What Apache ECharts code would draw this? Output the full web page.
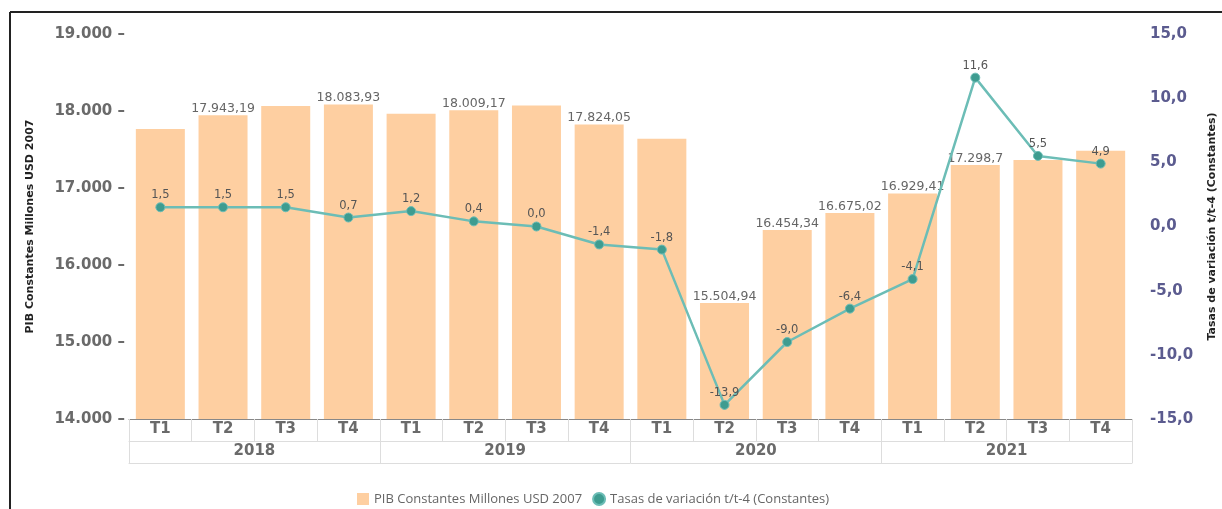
<!DOCTYPE html>
<html>
<head>
<meta charset="utf-8">
<script src="https://cdn.jsdelivr.net/npm/echarts@6/dist/echarts.min.js"></script>
<style>
  html, body { margin: 0; padding: 0; background: #fff; }
  #main { width: 1222px; height: 509px; }
</style>
</head>
<body>
<div id="main"></div>
<script>
// datos
var trimestres = ['T1','T2','T3','T4','T1','T2','T3','T4','T1','T2','T3','T4','T1','T2','T3','T4'];
var anios = ['2018', '2019', '2020', '2021'];
var pib = [17766, 17943.19, 18065, 18083.93, 17965, 18009.17, 18070, 17824.05,
           17640, 15504.94, 16454.34, 16675.02, 16929.41, 17298.7, 17364, 17485];
var tasas = [1.5, 1.5, 1.5, 0.7, 1.2, 0.4, 0.0, -1.4, -1.8, -13.9, -9.0, -6.4, -4.1, 11.6, 5.5, 4.9];
var conEtiqueta = [1, 3, 5, 7, 9, 10, 11, 12, 13];

function fmtMiles(v) {
    var p = String(v).split('.');
    var ent = p[0].replace(/\B(?=(\d{3})+(?!\d))/g, '.');
    return p.length > 1 ? ent + ',' + p[1] : ent;
}

var barData = pib.map(function (v, i) {
    return { value: v, label: { show: conEtiqueta.indexOf(i) >= 0 } };
});

var ejeTexto = { color: '#6a6a6a', fontSize: 15, fontWeight: 'bold', fontFamily: 'DejaVu Sans' };

var myChart = echarts.init(document.getElementById('main'));
var option = {
    animation: false,
    grid: { left: 129, right: 90, top: 34, bottom: 90, containLabel: false, outerBoundsMode: 'none' },
    legend: {
        top: 487,
        left: 352,
        itemWidth: 12,
        itemHeight: 12,
        itemGap: 10,
        textStyle: { color: '#666', fontSize: 13, fontFamily: 'Open Sans' },
        data: [
            { name: 'PIB Constantes Millones USD 2007', icon: 'rect' },
            { name: 'Tasas de variación t/t-4 (Constantes)', icon: 'circle' }
        ]
    },
    graphic: [
        { type: 'line', shape: { x1: 10, y1: 12, x2: 10, y2: 509 }, style: { stroke: '#222', lineWidth: 2 } },
        { type: 'line', shape: { x1: 10, y1: 12, x2: 1222, y2: 12 }, style: { stroke: '#222', lineWidth: 2 } }
    ],
    xAxis: [
        {
            type: 'category',
            data: trimestres,
            position: 'bottom',
            axisLine: { onZero: false, lineStyle: { color: '#888', width: 1 } },
            axisTick: { show: true, length: 22, interval: 0, lineStyle: { color: '#ddd' } },
            axisLabel: Object.assign({ interval: 0, margin: 3 }, ejeTexto)
        },
        {
            type: 'category',
            data: anios,
            position: 'bottom',
            offset: 22,
            axisLine: { onZero: false, lineStyle: { color: '#ddd', width: 1 } },
            axisTick: { show: true, length: 22, interval: 0, lineStyle: { color: '#ddd' } },
            axisLabel: Object.assign({ interval: 0, margin: 3 }, ejeTexto)
        },
        {
            type: 'category',
            data: anios,
            position: 'bottom',
            offset: 44,
            axisLine: { onZero: false, lineStyle: { color: '#ddd', width: 1 } },
            axisTick: { show: false },
            axisLabel: { show: false }
        }
    ],
    yAxis: [
        {
            type: 'value',
            min: 14000,
            max: 19000,
            interval: 1000,
            name: 'PIB Constantes Millones USD 2007',
            nameLocation: 'middle',
            nameGap: 93,
            nameRotate: 90,
            nameTextStyle: { color: '#222', fontSize: 11, fontWeight: 'bold', fontFamily: 'DejaVu Sans' },
            axisLine: { show: false },
            axisTick: { show: false },
            splitLine: { show: false },
            axisLabel: Object.assign({
                margin: 4,
                formatter: function (v) { return fmtMiles(v) + ' –'; }
            }, ejeTexto)
        },
        {
            type: 'value',
            min: -15,
            max: 15,
            interval: 5,
            name: 'Tasas de variación t/t-4 (Constantes)',
            nameLocation: 'middle',
            nameGap: 75,
            nameRotate: 90,
            nameTextStyle: { color: '#222', fontSize: 11, fontWeight: 'bold', fontFamily: 'DejaVu Sans' },
            axisLine: { show: false },
            axisTick: { show: false },
            splitLine: { show: false },
            axisLabel: {
                color: '#5b5b8f', fontSize: 15, fontWeight: 'bold', fontFamily: 'DejaVu Sans', margin: 18,
                formatter: function (v) { return v.toFixed(1).replace('.', ','); }
            }
        }
    ],
    series: [
        {
            name: 'PIB Constantes Millones USD 2007',
            type: 'bar',
            xAxisIndex: 0,
            yAxisIndex: 0,
            barWidth: 49,
            itemStyle: { color: '#fecfa1' },
            label: {
                position: 'top',
                distance: 0,
                color: '#666',
                fontSize: 12.5,
                fontFamily: 'DejaVu Sans',
                formatter: function (p) { return fmtMiles(p.value); }
            },
            data: barData
        },
        {
            name: 'Tasas de variación t/t-4 (Constantes)',
            type: 'line',
            xAxisIndex: 0,
            yAxisIndex: 1,
            symbol: 'circle',
            symbolSize: 9,
            lineStyle: { color: '#6cbdb6', width: 2.5 },
            itemStyle: { color: '#3e9c90', borderColor: '#6cbdb6', borderWidth: 1 },
            label: {
                show: true,
                position: 'top',
                distance: 1,
                color: '#555',
                fontSize: 11.5,
                fontFamily: 'DejaVu Sans',
                formatter: function (p) { return p.value.toFixed(1).replace('.', ','); }
            },
            data: tasas
        }
    ]
};
myChart.setOption(option);
</script>
</body>
</html>
